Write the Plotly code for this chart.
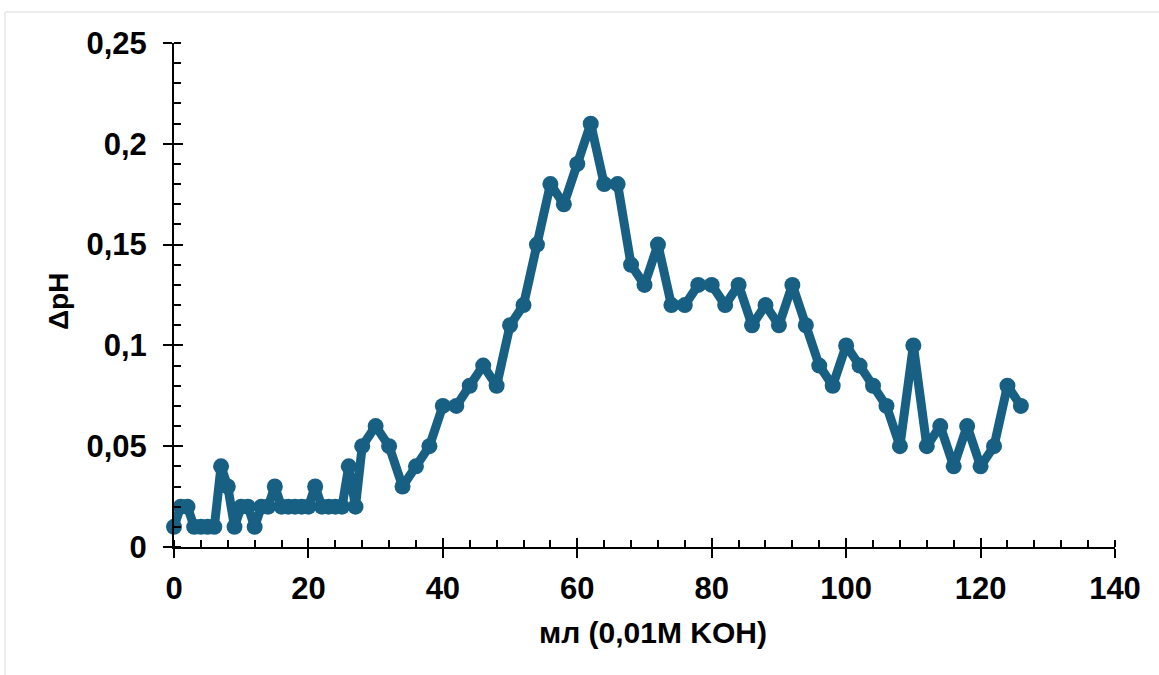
import plotly.graph_objects as go

# ---- data ----
x_ml = [0, 1, 2, 3, 4, 5, 6, 7, 8, 9, 10, 11, 12, 13, 14, 15, 16, 17, 18, 19, 20,
        21, 22, 23, 24, 25, 26, 27, 28, 30, 32, 34, 36, 38, 40, 42, 44, 46, 48, 50,
        52, 54, 56, 58, 60, 62, 64, 66, 68, 70, 72, 74, 76, 78, 80, 82, 84, 86, 88,
        90, 92, 94, 96, 98, 100, 102, 104, 106, 108, 110, 112, 114, 116, 118, 120,
        122, 124, 126]
dph = [0.01, 0.02, 0.02, 0.01, 0.01, 0.01, 0.01, 0.04, 0.03, 0.01, 0.02, 0.02, 0.01,
       0.02, 0.02, 0.03, 0.02, 0.02, 0.02, 0.02, 0.02, 0.03, 0.02, 0.02, 0.02, 0.02,
       0.04, 0.02, 0.05, 0.06, 0.05, 0.03, 0.04, 0.05, 0.07, 0.07, 0.08, 0.09, 0.08,
       0.11, 0.12, 0.15, 0.18, 0.17, 0.19, 0.21, 0.18, 0.18, 0.14, 0.13, 0.15, 0.12,
       0.12, 0.13, 0.13, 0.12, 0.13, 0.11, 0.12, 0.11, 0.13, 0.11, 0.09, 0.08, 0.10,
       0.09, 0.08, 0.07, 0.05, 0.10, 0.05, 0.06, 0.04, 0.06, 0.04, 0.05, 0.08, 0.07]

x_tickvals = [0, 20, 40, 60, 80, 100, 120, 140]
x_ticktext = ["0", "20", "40", "60", "80", "100", "120", "140"]
y_tickvals = [0, 0.05, 0.1, 0.15, 0.2, 0.25]
y_ticktext = ["0", "0,05", "0,1", "0,15", "0,2", "0,25"]

x_title = "мл (0,01M KOH)"
y_title = "ΔpH"

COLOR = "#176083"
FONT = "Liberation Sans, Arial, sans-serif"
W, H = 1159, 675
L, R, T, B = 174, 44, 43, 128
PW, PH = W - L - R, H - T - B

fig = go.Figure()
fig.add_trace(go.Scatter(
    x=x_ml, y=dph, mode="lines+markers",
    line=dict(color=COLOR, width=9),
    marker=dict(color=COLOR, size=16),
    cliponaxis=False, showlegend=False,
))
# invisible trace bound to overlay axes (used only for inner half of major ticks)
fig.add_trace(go.Scatter(
    x=x_ml, y=dph, xaxis="x2", yaxis="y2", mode="lines",
    opacity=0, showlegend=False, hoverinfo="skip",
))

tickfont = dict(family=FONT, size=31, color="black", weight="bold")

fig.update_layout(
    width=W, height=H,
    margin=dict(l=L, r=R, t=T, b=B),
    paper_bgcolor="white", plot_bgcolor="white",
    font=dict(family=FONT, color="black"),
    xaxis=dict(
        range=[0, 140], showgrid=False, zeroline=False,
        showline=True, linecolor="black", linewidth=2,
        ticks="outside", ticklen=9, tickwidth=2, tickcolor="black",
        tickvals=x_tickvals, ticktext=x_ticktext, tickfont=tickfont,
        minor=dict(dtick=4, tick0=0, ticks="inside", ticklen=7, tickwidth=1.5,
                   tickcolor="black", showgrid=False),
        ticklabelstandoff=4,
    ),
    yaxis=dict(
        range=[0, 0.25], showgrid=False, zeroline=False,
        showline=True, linecolor="black", linewidth=2,
        ticks="outside", ticklen=9, tickwidth=2, tickcolor="black",
        tickvals=y_tickvals, ticktext=y_ticktext, tickfont=tickfont,
        minor=dict(dtick=0.01, tick0=0, ticks="inside", ticklen=7, tickwidth=1.5,
                   tickcolor="black", showgrid=False),
        ticklabelstandoff=10,
    ),
    xaxis2=dict(
        overlaying="x", anchor="y", side="bottom", range=[0, 140],
        showgrid=False, zeroline=False, showline=False,
        ticks="inside", ticklen=9, tickwidth=2, tickcolor="black",
        tickvals=x_tickvals, showticklabels=False,
    ),
    yaxis2=dict(
        overlaying="y", anchor="x", side="left", range=[0, 0.25],
        showgrid=False, zeroline=False, showline=False,
        ticks="inside", ticklen=9, tickwidth=2, tickcolor="black",
        tickvals=y_tickvals, showticklabels=False,
    ),
    annotations=[
        dict(text=x_title, xref="paper", yref="paper",
             x=(653 - L) / PW, y=(H - B - 632) / PH,
             xanchor="center", yanchor="middle", showarrow=False,
             font=dict(family=FONT, size=30, color="black", weight="bold")),
        dict(text=y_title, xref="paper", yref="paper",
             x=(58 - L) / PW, y=(H - B - 302) / PH, textangle=-90,
             xanchor="center", yanchor="middle", showarrow=False,
             font=dict(family=FONT, size=28, color="black", weight="bold")),
    ],
    shapes=[dict(
        type="rect", xref="paper", yref="paper",
        x0=(5 - L) / PW, x1=1.5,
        y0=-0.6, y1=(H - B - 12) / PH,
        line=dict(color="#d9d9d9", width=1), fillcolor="rgba(0,0,0,0)", layer="below",
    )],
)

fig.write_html("out.html")
